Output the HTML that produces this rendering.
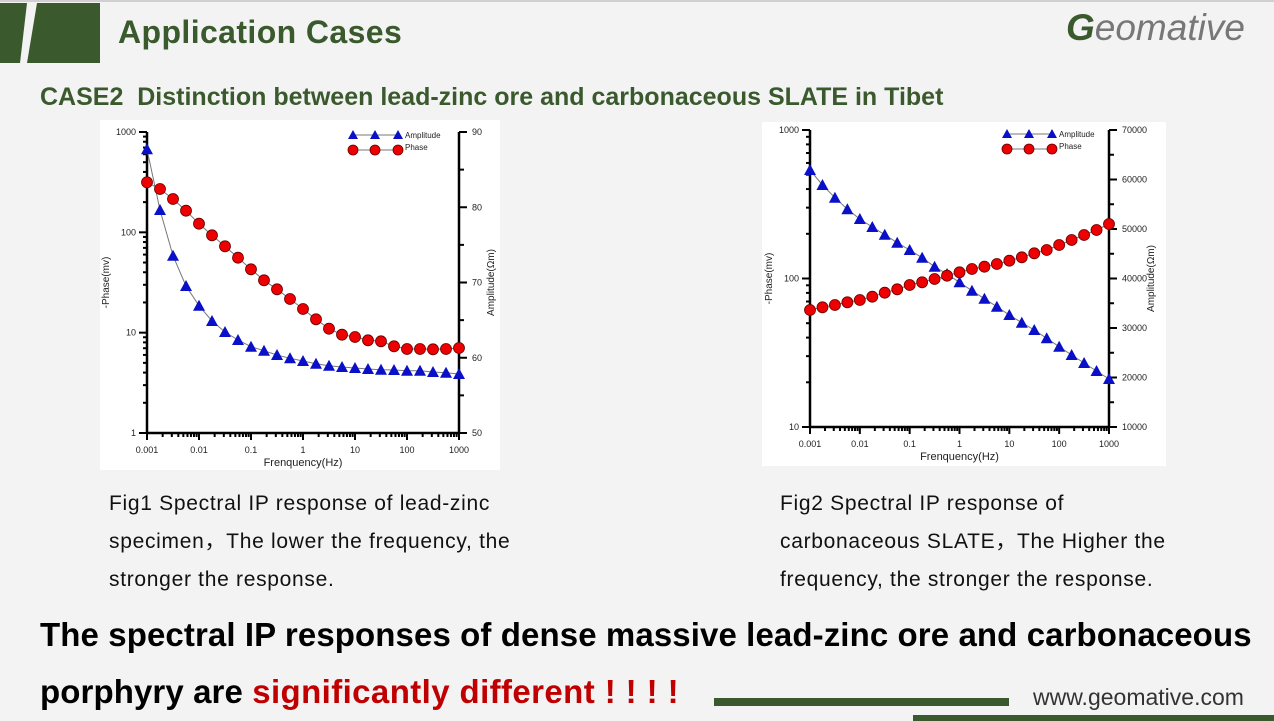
<!DOCTYPE html>
<html><head><meta charset="utf-8"><style>
body{margin:0;width:1274px;height:721px;overflow:hidden;background:#f3f3f3;font-family:"Liberation Sans","DejaVu Sans",sans-serif;position:relative}
.t{position:absolute;white-space:nowrap}
</style></head><body>
<div style="position:absolute;left:0;top:0;width:1274px;height:2px;background:#d0d0d0"></div>
<svg width="1274" height="721" style="position:absolute;left:0;top:0" id="s">
<polygon points="0,3 27,3 20,63 0,63" fill="#3a5a2e"/>
<polygon points="37,3 100,3 100,63 27,63" fill="#3a5a2e"/>
<rect x="100" y="120" width="400" height="350" fill="#fff"/>
<rect x="762" y="122" width="404" height="344" fill="#fff"/>
<rect x="714" y="698" width="295" height="8" fill="#3a5a2e"/>
<rect x="913" y="715" width="361" height="6" fill="#3a5a2e"/>
<g id="g" font-family="Liberation Sans,sans-serif" font-size="9" fill="#222"></g>
</svg>
<div class="t" style="left:118px;top:14px;font-size:32px;font-weight:bold;color:#3a5a2e;letter-spacing:0.4px">Application Cases</div>
<div class="t" style="left:1066px;top:7px;font-size:37px;font-style:italic;color:#777"><b style="color:#3a5a2e">G</b>eomative</div>
<div class="t" style="left:40px;top:83px;font-size:25px;font-weight:bold;color:#3a5a2e">CASE2&nbsp; Distinction between lead-zinc ore and carbonaceous SLATE in Tibet</div>
<div class="t" style="left:109px;top:485px;font-size:21px;line-height:38px;color:#111;letter-spacing:0.7px">Fig1 Spectral IP response of lead-zinc<br>specimen，The lower the frequency, the<br>stronger the response.</div>
<div class="t" style="left:780px;top:485px;font-size:21px;line-height:38px;color:#111;letter-spacing:0.7px">Fig2 Spectral IP response of<br>carbonaceous SLATE，The Higher the<br>frequency, the stronger the response.</div>
<div class="t" style="left:40px;top:616px;font-size:33px;font-weight:bold;color:#000;letter-spacing:0.1px">The spectral IP responses of dense massive lead-zinc ore and carbonaceous</div>
<div class="t" style="left:40px;top:673px;font-size:33px;font-weight:bold;color:#000;letter-spacing:0.1px">porphyry are <span style="color:#c00000;letter-spacing:0.4px">significantly different ! ! ! !</span></div>
<div class="t" style="left:1033px;top:684px;font-size:23px;color:#333">www.geomative.com</div>
<script>
const g=document.getElementById('g');let h='';
function L(x1,y1,x2,y2,w,c){h+=`<line x1="${x1}" y1="${y1}" x2="${x2}" y2="${y2}" stroke="${c||'#000'}" stroke-width="${w||1}"/>`}
function T(x,y,s,a,extra){h+=`<text x="${x}" y="${y}" text-anchor="${a||'middle'}" ${extra||''}>${s}</text>`}
function chart(o){
 const {l,r,t,b,dec,lt,rt,rmin,rstep,rn}=o;
 L(l,t,l,b,2.5);L(r,t,r,b,2.5);L(l,b,r,b,2.5);
 const dx=(r-l)/6;
 for(let d=0;d<6;d++){for(let k=2;k<10;k++){const x=l+dx*(d+Math.log10(k));L(x,b,x,b+4,2)}}
 const xl=['0.001','0.01','0.1','1','10','100','1000'];
 for(let d=0;d<=6;d++){const x=l+dx*d;L(x,b,x,b+7,2);T(x,b+20,xl[d])}
 const dy=(b-t)/dec;
 for(let d=0;d<dec;d++){for(let k=2;k<10;k++){const y=b-dy*(d+Math.log10(k));L(l-4,y,l,y,2)}}
 for(let d=0;d<=dec;d++){const y=b-dy*d;L(l-8,y,l,y,2);T(l-11,y+3,lt[d],'end')}
 for(let i=0;i<=rn*2;i++){const y=b-(b-t)*i/(rn*2);L(r,y,r+(i%2?5:8),y,2)}
 for(let i=0;i<=rn;i++){const y=b-(b-t)*i/rn;T(r+13,y+3,rmin+rstep*i,'start')}
 T((l+r)/2,b+33,'Frenquency(Hz)','middle','font-size="11"');
 h+=`<text transform="translate(${l-38},${(t+b)/2}) rotate(-90)" text-anchor="middle" font-size="10">-Phase(mv)</text>`;
 h+=`<text transform="translate(${r+35+(o.ro||0)},${(t+b)/2}) rotate(-90)" text-anchor="middle" font-size="10">Amplitude(Ωm)</text>`;
 const xs=i=>l+(r-l)*i/24;
 function series(ys,tri){let p=ys.map((y,i)=>xs(i)+','+y).join(' ');h+=`<polyline points="${p}" fill="none" stroke="#777" stroke-width="1"/>`;
  ys.forEach((y,i)=>{const x=xs(i);if(tri)h+=`<polygon points="${x},${y-6} ${x-6},${y+5} ${x+6},${y+5}" fill="#0a10c8"/>`;else h+=`<circle cx="${x}" cy="${y}" r="5.5" fill="#e00" stroke="#600" stroke-width="0.8"/>`})}
 series(o.tri,true);series(o.cir,false);
 const lx=o.lx,ly=o.ly;
 L(lx,ly,lx+45,ly,1,'#777');L(lx,ly+15,lx+45,ly+15,1,'#777');
 [0,22,45].forEach(d=>{h+=`<polygon points="${lx+d},${ly-5} ${lx+d-5},${ly+4} ${lx+d+5},${ly+4}" fill="#0a10c8"/><circle cx="${lx+d}" cy="${ly+15}" r="5" fill="#e00" stroke="#600" stroke-width="0.8"/>`});
 T(lx+52,ly+3,'Amplitude','start','font-size="8"');T(lx+52,ly+15,'Phase','start','font-size="8"');
}
chart({l:147,r:459,t:132,b:433,dec:3,lt:['1','10','100','1000'],rmin:50,rstep:10,rn:4,lx:353,ly:135,
tri:[149.3,210,255.7,286,305.7,321,332,340,346.7,350.7,355,358.3,361,363.7,365.7,367,368,369,369.7,370,370.7,370.7,372,372.7,374],
cir:[182.3,189,199,210.7,223.7,235.3,246.3,257.7,269.3,280.3,289.3,299,309,319.3,328.7,334.7,337,340.3,341.3,346.3,349,349,349.3,349,348]});
chart({l:810,r:1109,t:130,b:427,dec:2,lt:['10','100','1000'],rmin:10000,rstep:10000,rn:6,lx:1007,ly:134,ro:10,
tri:[170,185,197.7,209.3,219,227,234.7,242.7,250,257.7,266.7,274,282.3,290.7,298.7,306.7,315,322.7,330,338.3,346.7,355,363,371,379],
cir:[310,307.3,305,302.3,300,296.7,292.7,289.3,285,282.3,279,275.7,272.3,269,266.7,264,260.7,257.3,253.3,250,245,240,235,230,224]});
g.innerHTML=h;
</script>
</body></html>
